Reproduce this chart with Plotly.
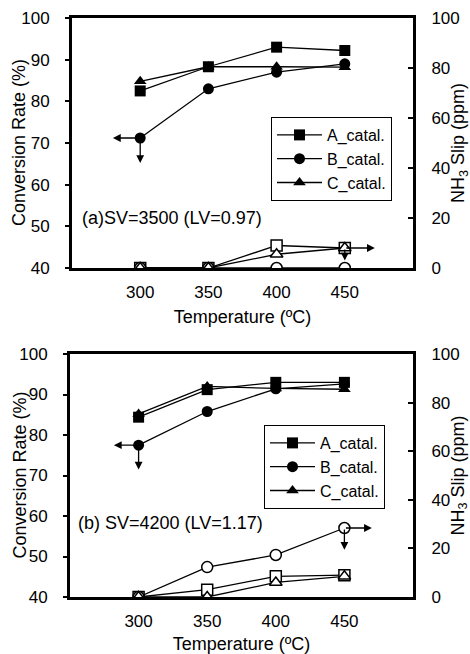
import plotly.graph_objects as go

temps = [300, 350, 400, 450]

# Panel (a) SV=3500 -- conversion rate (%)
a_conv_A = [82.5, 88.3, 93.0, 92.2]
a_conv_B = [71.2, 83.0, 87.0, 89.0]
a_conv_C = [84.8, 88.3, 88.3, 88.2]
# Panel (a) NH3 slip (ppm)
a_slip_A = [0, 0, 9.0, 8.0]
a_slip_B = [0, 0, 0, 0]
a_slip_C = [0, 0, 5.5, 8.0]

# Panel (b) SV=4200 -- conversion rate (%)
b_conv_A = [84.4, 91.2, 93.0, 93.0]
b_conv_B = [77.5, 85.8, 91.4, 92.6]
b_conv_C = [85.2, 92.0, 91.5, 91.3]
# Panel (b) NH3 slip (ppm)
b_slip_A = [0, 3.0, 8.5, 9.0]
b_slip_B = [0, 12.3, 17.3, 28.4]
b_slip_C = [0, 0, 6.0, 8.5]

names = ["A_catal.", "B_catal.", "C_catal."]
symbols = ["square", "circle", "triangle-up"]

x_ticks = [300, 350, 400, 450]
x_title = "Temperature (\u00baC)"
y_title = "Conversion Rate (%)"
y2_title = "NH<sub>3</sub> Slip (ppm)"

FONT = "Arial, Liberation Sans, sans-serif"
W, H = 470, 654
FS = 17

fig = go.Figure()

panels = [
    dict(conv=[a_conv_A, a_conv_B, a_conv_C], slip=[a_slip_A, a_slip_B, a_slip_C],
         x="x", y="y", y2="y2", legend="legend"),
    dict(conv=[b_conv_A, b_conv_B, b_conv_C], slip=[b_slip_A, b_slip_B, b_slip_C],
         x="x2", y="y3", y2="y4", legend="legend2"),
]

for p in panels:
    for i in range(3):
        fig.add_trace(go.Scatter(
            x=temps, y=p["conv"][i], name=names[i], mode="lines+markers",
            line=dict(color="black", width=1.3),
            marker=dict(symbol=symbols[i], size=11, color="black"),
            xaxis=p["x"], yaxis=p["y"], legend=p["legend"], showlegend=True))
    for i in range(3):
        fig.add_trace(go.Scatter(
            x=temps, y=p["slip"][i], name=names[i], mode="lines+markers",
            line=dict(color="black", width=1.3),
            marker=dict(symbol=symbols[i], size=11, color="white",
                        line=dict(color="black", width=1.5)),
            xaxis=p["x"], yaxis=p["y2"], showlegend=False))

def px_x(x0, x1):
    return [x0 / W, x1 / W]

def px_y(top, bottom):
    return [1 - bottom / H, 1 - top / H]

xdomA = px_x(72, 413)
xdomB = px_x(70, 413)
ydomA = px_y(18, 268)
ydomB = px_y(354, 597)

axis_common = dict(showline=True, linecolor="black", linewidth=3, showgrid=False,
                   zeroline=False, automargin=False,
                   tickfont=dict(family=FONT, size=FS, color="black"))

xcommon = dict(axis_common, range=[250, 500], tickvals=x_ticks,
               ticks="", mirror=True, ticklabelstandoff=7,
               title=dict(text=x_title, font=dict(family=FONT, size=FS + 1, color="black"),
                          standoff=9))
ycommon = dict(axis_common, range=[40, 100], dtick=10, ticks="outside", ticklen=4,
               tickwidth=1.5, tickcolor="black", ticklabelstandoff=12)
y2common = dict(axis_common, range=[0, 100], dtick=20, ticks="inside", ticklen=5,
                tickwidth=1.5, tickcolor="black", side="right", ticklabelstandoff=12)

fig.update_layout(
    xaxis=dict(xcommon, domain=xdomA, anchor="y"),
    yaxis=dict(ycommon, domain=ydomA, anchor="x"),
    yaxis2=dict(y2common, domain=ydomA, anchor="x", overlaying="y"),
    xaxis2=dict(xcommon, domain=xdomB, anchor="y3"),
    yaxis3=dict(ycommon, domain=ydomB, anchor="x2"),
    yaxis4=dict(y2common, domain=ydomB, anchor="x2", overlaying="y3"),
)

# vertical axis titles
for dom in (ydomA, ydomB):
    fig.add_annotation(text=y_title, xref="paper", yref="paper",
                       x=19 / W, y=(dom[0] + dom[1]) / 2, textangle=-90,
                       xanchor="center", yanchor="middle", showarrow=False,
                       font=dict(family=FONT, size=FS + 1, color="black"))
    fig.add_annotation(text=y2_title, xref="paper", yref="paper",
                       x=459 / W, y=(dom[0] + dom[1]) / 2, textangle=-90,
                       xanchor="center", yanchor="middle", showarrow=False,
                       font=dict(family=FONT, size=FS + 1, color="black"))

legend_common = dict(bgcolor="white", bordercolor="black", borderwidth=1,
                     font=dict(family=FONT, size=16, color="black"),
                     xanchor="left", yanchor="top", tracegroupgap=0, itemwidth=45)
fig.update_layout(
    legend=dict(legend_common, x=271 / W, y=1 - 117 / H),
    legend2=dict(legend_common, x=264 / W, y=1 - 425 / H),
)

# panel labels
fig.add_annotation(text="(a)SV=3500 (LV=0.97)", xref="paper", yref="paper",
                   x=80 / W, y=1 - 218 / H, xanchor="left", yanchor="middle",
                   showarrow=False, font=dict(family=FONT, size=FS + 1, color="black"))
fig.add_annotation(text="(b) SV=4200 (LV=1.17)", xref="paper", yref="paper",
                   x=76 / W, y=1 - 523 / H, xanchor="left", yanchor="middle",
                   showarrow=False, font=dict(family=FONT, size=FS + 1, color="black"))

# axis-indicator arrows (tail at a data point, head offset)
def arrow(xr, yr, x0, y0, x1, y1):
    fig.add_annotation(x=x1, y=y1, ax=x0, ay=y0, xref=xr, yref=yr, axref=xr, ayref=yr,
                       text="", showarrow=True, arrowhead=2, arrowsize=1.2,
                       arrowwidth=1.3, arrowcolor="black", standoff=0, startstandoff=0)

# panel (a)
arrow("x", "y", temps[0], a_conv_B[0], temps[0] - 20, a_conv_B[0])
arrow("x", "y", temps[0], a_conv_B[0], temps[0], a_conv_B[0] - 6)
arrow("x", "y2", temps[3], a_slip_A[3], temps[3] + 22, a_slip_A[3])
arrow("x", "y2", temps[3], a_slip_A[3], temps[3], a_slip_A[3] - 5)
# panel (b)
arrow("x2", "y3", temps[0], b_conv_B[0], temps[0] - 18, b_conv_B[0])
arrow("x2", "y3", temps[0], b_conv_B[0], temps[0], b_conv_B[0] - 6)
arrow("x2", "y4", temps[3], b_slip_B[3], temps[3] + 20, b_slip_B[3])
arrow("x2", "y4", temps[3], b_slip_B[3], temps[3], b_slip_B[3] - 9)

fig.update_layout(width=W, height=H, margin=dict(l=0, r=0, t=0, b=0, autoexpand=False),
                  paper_bgcolor="white", plot_bgcolor="white",
                  font=dict(family=FONT, size=FS, color="black"))

fig.write_html("out.html", config={"displayModeBar": False},
               post_script="document.body.style.margin='0';document.body.style.overflow='hidden';")
